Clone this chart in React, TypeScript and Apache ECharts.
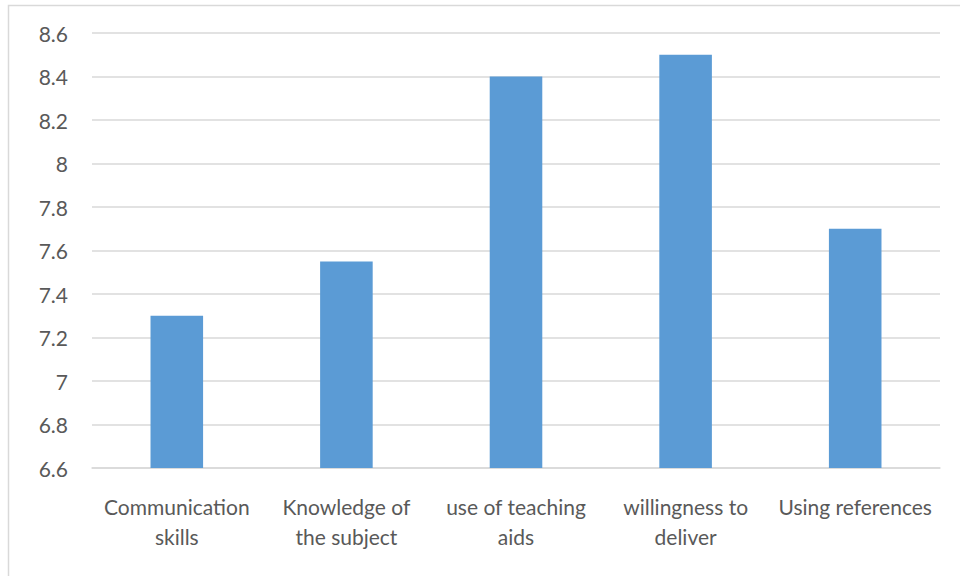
import React, { useEffect, useRef } from "react";
import * as echarts from "echarts";

const categories = [
  "Communication skills",
  "Knowledge of the subject",
  "use of teaching aids",
  "willingness to deliver",
  "Using references",
];
const tickLabels = [
  "Communication\nskills",
  "Knowledge of\nthe subject",
  "use of teaching\naids",
  "willingness to\ndeliver",
  "Using references",
];
const values = [7.3, 7.55, 8.4, 8.5, 7.7];
const yMin = 6.6;
const yMax = 8.6;
const yStep = 0.2;

export default function App() {
  const ref = useRef<HTMLDivElement>(null);
  useEffect(() => {
    if (!ref.current) return;
    const chart = echarts.init(ref.current, undefined, { renderer: "svg" });
    const font = "Lato, 'Noto Sans', sans-serif";
    chart.setOption({
      animation: false,
      backgroundColor: "#ffffff",
      graphic: [
        {
          type: "rect",
          shape: { x: 8.5, y: 5.5, width: 1000, height: 1000 },
          style: { fill: "none", stroke: "#D9D9D9", lineWidth: 1.5 },
          silent: true,
        },
      ],
      grid: { left: 92, right: 20, top: 33, bottom: 108 },
      xAxis: {
        type: "category",
        data: categories,
        axisLine: { show: true, lineStyle: { color: "#D9D9D9", width: 1.5 } },
        axisTick: { show: false },
        axisLabel: {
          color: "#595959",
          fontSize: 21,
          fontFamily: font,
          margin: 23,
          lineHeight: 30,
          interval: 0,
          formatter: (_v: string, i: number) => tickLabels[i],
        },
      },
      yAxis: {
        type: "value",
        min: yMin,
        max: yMax,
        interval: yStep,
        axisLine: { show: false },
        axisTick: { show: false },
        splitLine: { lineStyle: { color: "#D9D9D9", width: 1.5 } },
        axisLabel: {
          color: "#595959",
          fontSize: 21,
          fontFamily: font,
          margin: 24,
          formatter: (v: number) => String(Math.round(v * 10) / 10),
        },
      },
      series: [
        {
          type: "bar",
          data: values,
          barWidth: "31%",
          itemStyle: { color: "#5B9BD5" },
        },
      ],
    });
    return () => chart.dispose();
  }, []);
  return (
    <div
      ref={ref}
      style={{ position: "absolute", left: 0, top: 0, width: 960, height: 576 }}
    />
  );
}
